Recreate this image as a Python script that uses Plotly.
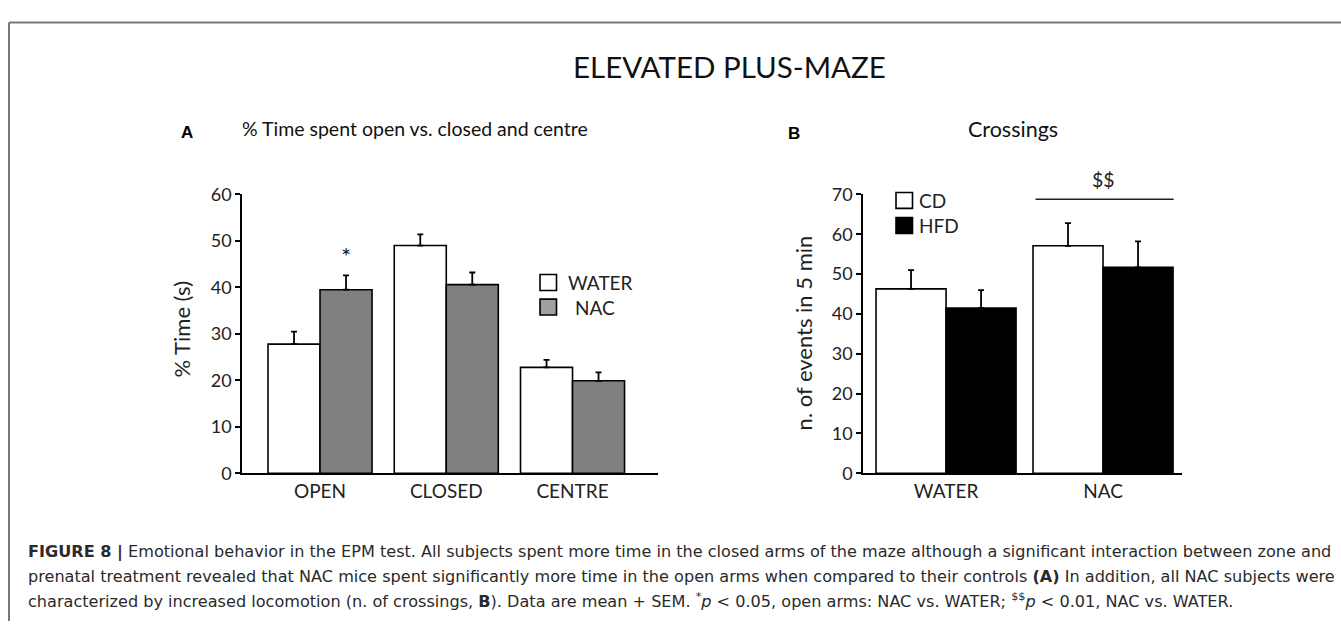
import plotly.graph_objects as go

W, H = 1341, 631

# ---------------- data ----------------
zones = ["OPEN", "CLOSED", "CENTRE"]
water_time = [27.8, 49.0, 22.8]
water_time_sem = [2.7, 2.4, 1.6]
nac_time = [39.5, 40.6, 19.9]
nac_time_sem = [3.1, 2.6, 1.8]

treatments = ["WATER", "NAC"]
cd_cross = [46.3, 57.1]
cd_cross_sem = [4.7, 5.7]
hfd_cross = [41.5, 51.7]
hfd_cross_sem = [4.5, 6.5]

yticks_a = [0, 10, 20, 30, 40, 50, 60]
yticks_b = [0, 10, 20, 30, 40, 50, 60, 70]

FONT = "Lato"
CAPFONT = "DejaVu Sans"

def px(x):
    return x / W

def py(y):
    return 1 - y / H

wa = 0.412  # bar width panel A (category units)
wb = 0.446  # bar width panel B

fig = go.Figure()

def bar(x, y, err, color, xa, ya, offset, width):
    return go.Bar(
        x=x, y=y, xaxis=xa, yaxis=ya, width=width, offset=offset,
        marker=dict(color=color, line=dict(color="black", width=1.6)),
        error_y=dict(type="data", array=err, arrayminus=[0] * len(err),
                     symmetric=False, color="black", thickness=1.8, width=3),
        showlegend=False, hoverinfo="skip",
    )

fig.add_trace(bar(zones, water_time, water_time_sem, "white", "x", "y", -wa, wa))
fig.add_trace(bar(zones, nac_time, nac_time_sem, "#808080", "x", "y", 0, wa))
fig.add_trace(bar(treatments, cd_cross, cd_cross_sem, "white", "x2", "y2", -wb, wb))
fig.add_trace(bar(treatments, hfd_cross, hfd_cross_sem, "black", "x2", "y2", 0, wb))

axis_common = dict(showgrid=False, zeroline=False, showline=True,
                   linecolor="black", linewidth=1.6)
xfont = dict(family=FONT, size=19, color="#222")
yfont = dict(family=FONT, size=18, color="#222")

fig.update_layout(
    width=W, height=H,
    margin=dict(l=0, r=0, t=0, b=0),
    paper_bgcolor="white", plot_bgcolor="white",
    barmode="group",
    xaxis=dict(domain=[px(242), px(658)], range=[-0.618, 2.677], type="category",
               ticks="", anchor="y", tickfont=xfont, **axis_common),
    yaxis=dict(domain=[py(478), py(189)], range=[0, 60], tickvals=yticks_a,
               ticks="outside", ticklen=5, tickwidth=1.6, tickcolor="black",
               anchor="x", tickfont=yfont, **axis_common),
    xaxis2=dict(domain=[px(863), px(1182)], range=[-0.529, 1.503], type="category",
                ticks="", anchor="y2", tickfont=xfont, **axis_common),
    yaxis2=dict(domain=[py(478), py(189)], range=[0, 70], tickvals=yticks_b,
                ticks="outside", ticklen=5, tickwidth=1.6, tickcolor="black",
                anchor="x2", tickfont=yfont, **axis_common),
)

ann = []
shapes = []

def text(t, x, y, size, family=FONT, color="#111", xanchor="center", yanchor="middle",
         xref="paper", yref="paper", **kw):
    ann.append(dict(text=t, x=x, y=y, xref=xref, yref=yref, xanchor=xanchor,
                    yanchor=yanchor, showarrow=False,
                    font=dict(family=family, size=size, color=color), **kw))

# titles
text("ELEVATED PLUS-MAZE", px(729), py(56), 29.5)
text("<b>A</b>", px(187), py(125), 17, family="Liberation Sans", color="black")
text("% Time spent open vs. closed and centre", px(415), py(121), 19.5)
text("<b>B</b>", px(794), py(126), 17, family="Liberation Sans", color="black")
text("Crossings", px(1013), py(121), 21.5)

# axis titles
text("% Time (s)", px(182), py(329), 22, color="#222", textangle=-90)
text("n. of events in 5 min", px(803), py(333), 22, color="#222", textangle=-90)

# significance marks
text("*", wa / 2, nac_time[0] + nac_time_sem[0] + 4.2, 24, color="#222", xref="x", yref="y")
shapes.append(dict(type="line", xref="x2", yref="y2", x0=0.57, x1=1.45, y0=68.8, y1=68.8,
                   line=dict(color="#222", width=1.6)))
text("&#36;&#36;", 1.0, 68.8, 19.5, color="#222", xref="x2", yref="y2", yshift=20)

# legends
def legend_item(x0, y0, size, fill, label, tx):
    shapes.append(dict(type="rect", xref="paper", yref="paper",
                       x0=px(x0), x1=px(x0 + size), y0=py(y0 + size), y1=py(y0),
                       fillcolor=fill, line=dict(color="black", width=1.6)))
    text(label, px(tx), py(y0 + size / 2), 19, color="#222", xanchor="left")

legend_item(540, 272, 16.5, "white", "WATER", 566)
legend_item(540, 297.5, 16.5, "#a0a0a0", "NAC", 573)
legend_item(896, 187, 16.5, "white", "CD", 917)
legend_item(896, 213, 16.5, "black", "HFD", 917)

# frame
shapes.append(dict(type="line", xref="paper", yref="paper", x0=px(9), x1=1, y0=py(11), y1=py(11),
                   line=dict(color="#777", width=2)))
shapes.append(dict(type="line", xref="paper", yref="paper", x0=px(9), x1=px(9), y0=py(11), y1=0,
                   line=dict(color="#777", width=2)))

# caption
cap = [
    "<b>FIGURE 8 |</b> Emotional behavior in the EPM test. All subjects spent more time in the closed arms of the maze although a significant interaction between zone and",
    "prenatal treatment revealed that NAC mice spent significantly more time in the open arms when compared to their controls <b>(A)</b> In addition, all NAC subjects were",
    "characterized by increased locomotion (n. of crossings, <b>B</b>). Data are mean + SEM. <sup>*</sup><i>p</i> &lt; 0.05, open arms: NAC vs. WATER; <sup>&#36;&#36;</sup><i>p</i> &lt; 0.01, NAC vs. WATER.",
]
for i, line in enumerate(cap):
    text(line, px(26), py(559 + 25.5 * i), 16.1, family=CAPFONT, color="#2a2a2a", xanchor="left")

fig.update_layout(annotations=ann, shapes=shapes)
fig.write_html(
    "out.html",
    config={"displayModeBar": False},
    post_script="document.body.style.margin='0';document.body.style.overflow='hidden';",
)
